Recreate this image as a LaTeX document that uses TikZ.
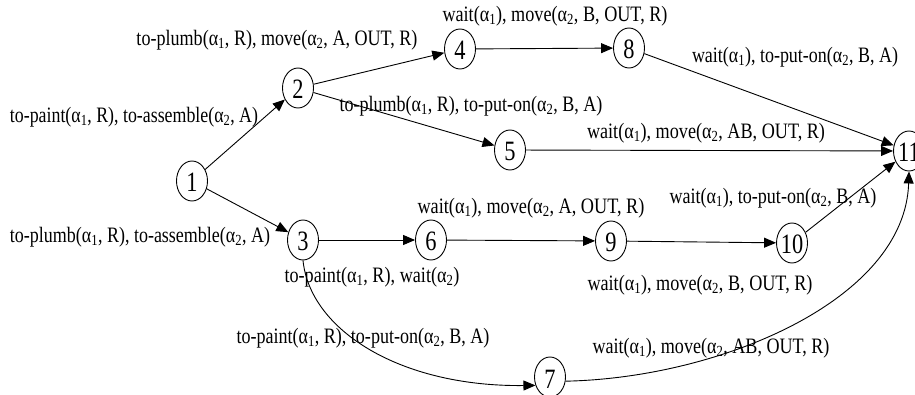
\documentclass[tikz,border=0pt]{standalone}
\usepackage{fontspec}
\setmainfont{Liberation Serif}
\newfontfamily\digfont[FakeStretch=0.8]{Liberation Serif}
\usetikzlibrary{shapes.geometric,arrows.meta}
\newcommand\aone{α\textsubscript{1}}
\newcommand\atwo{α\textsubscript{2}}
\newcommand\lab[2]{\resizebox{#1pt}{\height}{#2}}
\newcommand\nd[1]{\smash{\makebox[0pt]{\raisebox{-11pt}{\digfont\fontsize{28}{28}\selectfont #1}}}}
\tikzset{
  st/.style={draw, ellipse, minimum width=31pt, minimum height=40pt, inner sep=0pt, line width=0.9pt},
  arr/.style={line width=0.9pt, -{Triangle[length=12pt,width=10pt]}},
  lbl/.style={inner sep=0pt, font=\fontsize{22}{24}\selectfont},
}
\begin{document}
\begin{tikzpicture}[x=1pt,y=-1pt]
\useasboundingbox (0,0) rectangle (915,395);
% states
\node[st] (n1) at (192,181) {\nd{1}};
\node[st] (n2) at (298,88) {\nd{2}};
\node[st] (n3) at (303,240) {\nd{3}};
\node[st] (n4) at (460,49) {\nd{4}};
\node[st] (n5) at (510,150) {\nd{5}};
\node[st] (n6) at (431,240) {\nd{6}};
\node[st] (n7) at (550,377) {\nd{7}};
\node[st] (n8) at (629,48) {\nd{8}};
\node[st] (n9) at (611,241) {\nd{9}};
\node[st] (n10) at (792,243) {\nd{10}};
\node[st] (n11) at (909,151) {\nd{11}};
% transitions
\draw[arr] (n1) -- (n2);
\draw[arr] (n1) -- (n3);
\draw[arr] (n2) -- (n4);
\draw[arr] (n2) -- (n5);
\draw[arr] (n4) -- (n8);
\draw[arr] (n8) -- (n11);
\draw[arr] (n5) -- (n11);
\draw[arr] (n3) -- (n6);
\draw[arr] (n6) -- (n9);
\draw[arr] (n9) -- (n10);
\draw[arr] (n10) -- (n11);
\draw[arr] (n3.south) .. controls (310,330) and (400,387) .. (n7.210);
\draw[arr] (n7.-15) .. controls (720,378) and (905,300) .. (n11.south);
% labels
\node[lbl] (l12) at (134,117) {\lab{248}{to-paint(\aone, R), to-assemble(\atwo, A)}};
\node[lbl] (l24) at (277,40) {\lab{281}{to-plumb(\aone, R), move(\atwo, A, OUT, R)}};
\node[lbl] (l48) at (555,16) {\lab{225}{wait(\aone), move(\atwo, B, OUT, R)}};
\node[lbl] (l25) at (471,106) {\lab{263}{to-plumb(\aone, R), to-put-on(\atwo, B, A)}};
\node[lbl] (l811) at (795,57) {\lab{206}{wait(\aone), to-put-on(\atwo, B, A)}};
\node[lbl] (l511) at (706,133) {\lab{238}{wait(\aone), move(\atwo, AB, OUT, R)}};
\node[lbl] (l13) at (140,237) {\lab{260}{to-plumb(\aone, R), to-assemble(\atwo, A)}};
\node[lbl] (l36) at (372,277) {\lab{175}{to-paint(\aone, R), wait(\atwo)}};
\node[lbl] (l37) at (363,338) {\lab{253}{to-paint(\aone, R), to-put-on(\atwo, B, A)}};
\node[lbl] (l69) at (531,208) {\lab{227}{wait(\aone), move(\atwo, A, OUT, R)}};
\node[lbl] (l1011) at (773,198) {\lab{207}{wait(\aone), to-put-on(\atwo, B, A)}};
\node[lbl] (l910) at (700,285) {\lab{225}{wait(\aone), move(\atwo, B, OUT, R)}};
\node[lbl] (l711) at (711,348) {\lab{237}{wait(\aone), move(\atwo, AB, OUT, R)}};
\end{tikzpicture}
\end{document}
